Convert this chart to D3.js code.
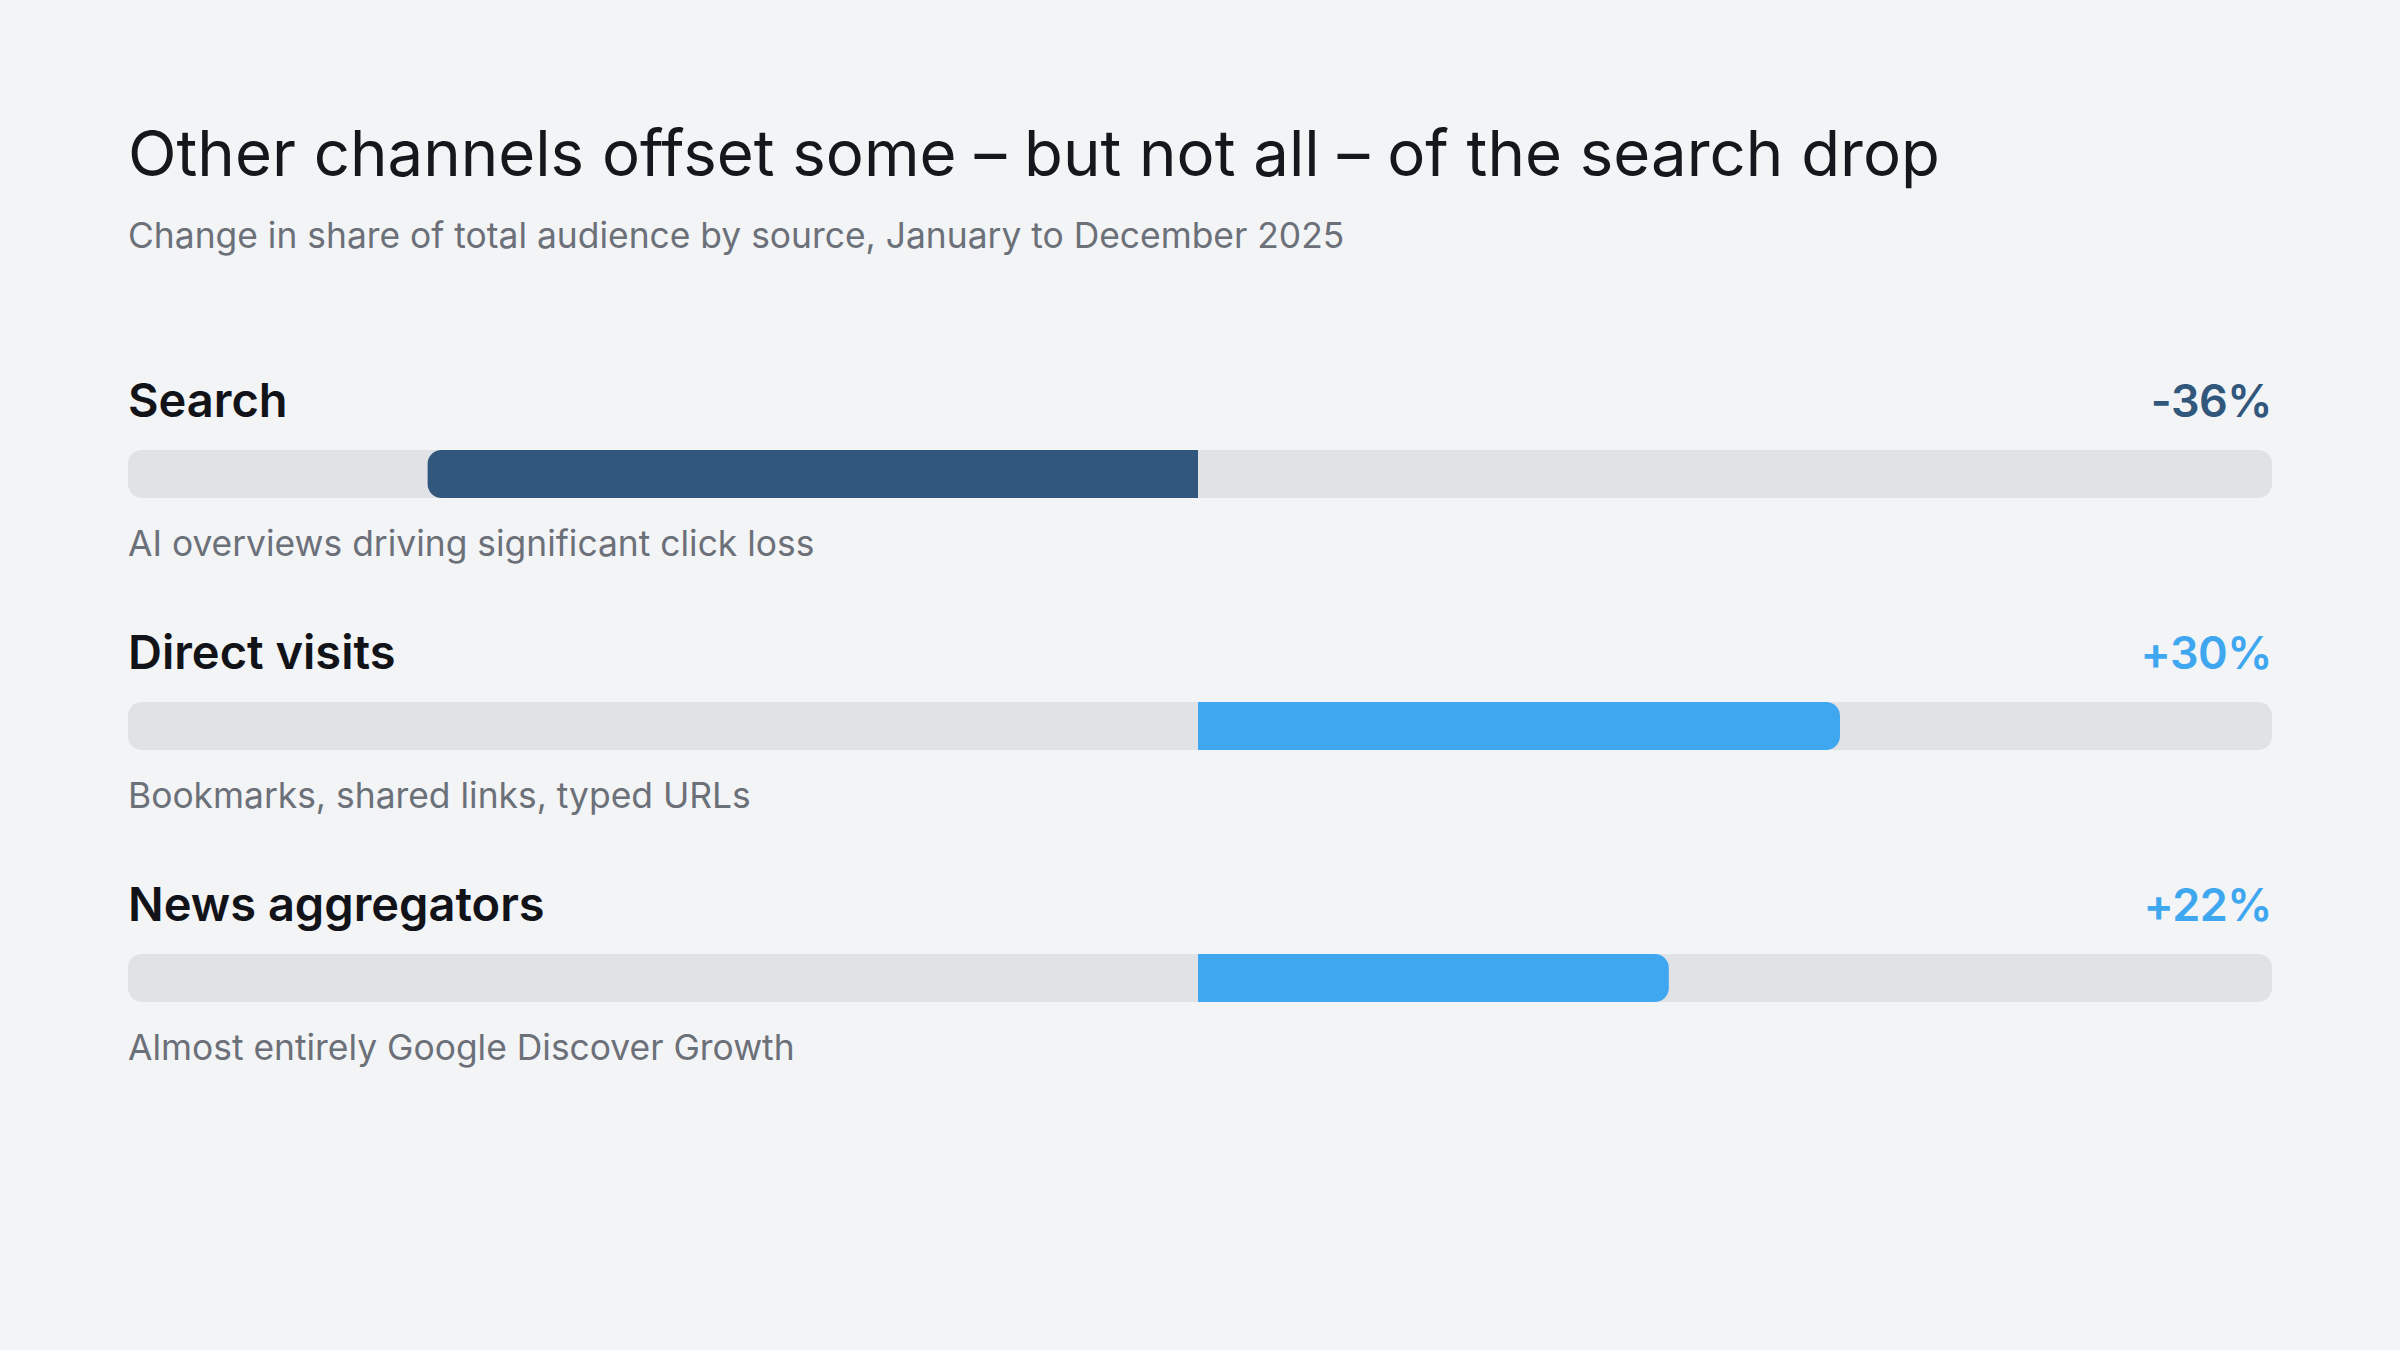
<!DOCTYPE html>
<html>
<head>
<meta charset="utf-8">
<script src="https://cdn.jsdelivr.net/npm/d3@7"></script>
<style>
  html, body { margin: 0; padding: 0; background: #f3f4f6; }
  svg { display: block; font-family: Inter, "Noto Sans", sans-serif; }
</style>
</head>
<body>
<div id="chart"></div>
<script>
// chart data
const sources = ['Search', 'Direct visits', 'News aggregators'];
const changes = [-36, 30, 22];
const notes = ['AI overviews driving significant click loss',
               'Bookmarks, shared links, typed URLs',
               'Almost entirely Google Discover Growth'];

const titleText = 'Other channels offset some \u2013 but not all \u2013 of the search drop';
const subtitleText = 'Change in share of total audience by source, January to December 2025';

const W = 2400, H = 1350;
const left = 128, right = 2272;
const trackH = 48, radius = 14;

const svg = d3.select('#chart').append('svg')
    .attr('width', W)
    .attr('height', H);

svg.append('rect').attr('width', W).attr('height', H).attr('fill', '#f3f4f6');

svg.append('text')
    .attr('x', left).attr('y', 176)
    .attr('font-size', 63.5)
    .attr('fill', '#14171c')
    .text(titleText);

svg.append('text')
    .attr('x', left).attr('y', 248)
    .attr('font-size', 35.4)
    .attr('fill', '#6b7079')
    .text(subtitleText);

// zero sits slightly left of the track centre in the original
let x = d3.scaleLinear()
    .domain([-50, 50])
    .range([left, right - 4]);

let rowY = d3.scaleBand()
    .domain(sources)
    .range([450, 450 + 252 * sources.length])
    .paddingInner(0);

// bar with only the outer end rounded
function barPath(v, y) {
    let x0 = x(0), x1 = x(v);
    let r = Math.min(radius, Math.abs(x1 - x0));
    let s = v >= 0 ? -1 : 1;
    let p = d3.path();
    p.moveTo(x0, y);
    p.lineTo(x1 + s * r, y);
    p.arcTo(x1, y, x1, y + r, r);
    p.lineTo(x1, y + trackH - r);
    p.arcTo(x1, y + trackH, x1 + s * r, y + trackH, r);
    p.lineTo(x0, y + trackH);
    p.closePath();
    return p.toString();
}

const colorOf = v => v < 0 ? '#31577c' : '#3fa7ef';

const rows = svg.selectAll('g.row')
    .data(sources)
    .join('g')
    .attr('class', 'row')
    .attr('transform', d => `translate(0,${rowY(d)})`);

rows.append('text')
    .attr('x', left).attr('y', -33)
    .attr('font-size', 47)
    .attr('font-weight', 600)
    .attr('fill', '#111318')
    .text(d => d);

rows.append('text')
    .attr('x', right).attr('y', -33)
    .attr('text-anchor', 'end')
    .attr('font-size', 45)
    .attr('font-weight', 600)
    .attr('letter-spacing', -0.5)
    .attr('fill', (d, i) => colorOf(changes[i]))
    .text((d, i) => (changes[i] > 0 ? '+' : '') + changes[i] + '%');

rows.append('rect')
    .attr('x', left).attr('y', 0)
    .attr('width', right - left).attr('height', trackH)
    .attr('rx', radius)
    .attr('fill', '#e1e2e6');

rows.append('path')
    .attr('d', (d, i) => barPath(changes[i], 0))
    .attr('fill', (d, i) => colorOf(changes[i]));

rows.append('text')
    .attr('x', left).attr('y', 106)
    .attr('font-size', 35.4)
    .attr('fill', '#6b7079')
    .text((d, i) => notes[i]);
</script>
</body>
</html>
